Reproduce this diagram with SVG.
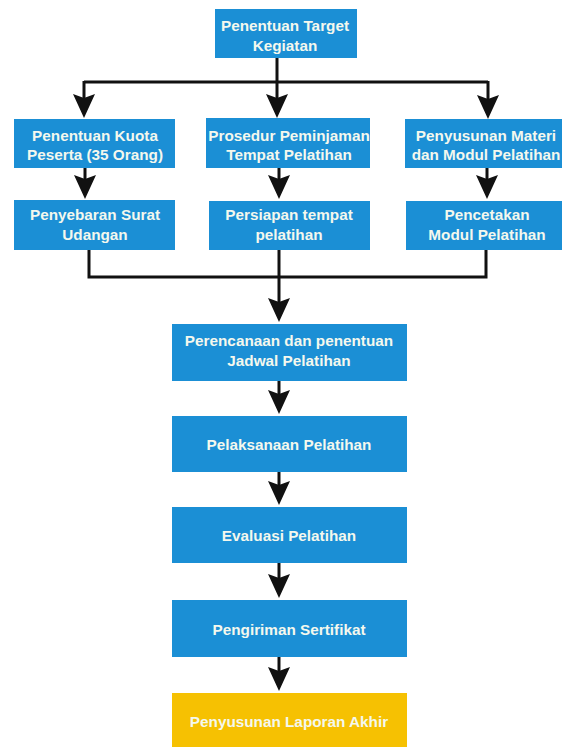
<svg xmlns="http://www.w3.org/2000/svg" width="562" height="747" viewBox="0 0 562 747">
<style>
.b{fill:#1b8fd5}
.y{fill:#f6c102}
text{font-family:"Liberation Sans",Arial,sans-serif;font-weight:bold;font-size:15.3px;fill:#f4f8ee;text-anchor:middle}
.c{fill:none;stroke:#111;stroke-width:3}
</style>
<defs>
<marker id="ah" viewBox="0 0 24 22" refX="14" refY="11" markerWidth="24" markerHeight="22" markerUnits="userSpaceOnUse" orient="auto">
<path d="M0,0 L24,11 L0,22 L4,11 Z" fill="#111"/>
</marker>
</defs>
<rect width="562" height="747" fill="#fff"/>
<g id="connectors">
<path class="c" d="M277,58 V82"/>
<path class="c" d="M84,82 H488"/>
<path class="c" d="M84,81 V108" marker-end="url(#ah)"/>
<path class="c" d="M277,82 V108" marker-end="url(#ah)"/>
<path class="c" d="M488,81 V109" marker-end="url(#ah)"/>
<path class="c" d="M85,168 V189" marker-end="url(#ah)"/>
<path class="c" d="M279,168 V189" marker-end="url(#ah)"/>
<path class="c" d="M487,168 V189" marker-end="url(#ah)"/>
<path class="c" d="M89,250 V277 H486 V250"/>
<path class="c" d="M279,250 V312" marker-end="url(#ah)"/>
<path class="c" d="M279,381 V404" marker-end="url(#ah)"/>
<path class="c" d="M279,472 V495" marker-end="url(#ah)"/>
<path class="c" d="M279,563 V588" marker-end="url(#ah)"/>
<path class="c" d="M279,657 V681" marker-end="url(#ah)"/>
</g>
<g id="n_target"><rect class="b" x="215" y="9" width="142" height="49"/><text x="285" y="31">Penentuan Target</text><text x="285" y="51">Kegiatan</text></g>
<g id="n_kuota"><rect class="b" x="14" y="119" width="161" height="49"/><text x="95" y="141">Penentuan Kuota</text><text x="95" y="160">Peserta (35 Orang)</text></g>
<g id="n_prosedur"><rect class="b" x="206" y="118" width="164" height="50"/><text x="289" y="141">Prosedur Peminjaman</text><text x="289" y="160">Tempat Pelatihan</text></g>
<g id="n_materi"><rect class="b" x="405" y="119" width="157" height="49"/><text x="486" y="141">Penyusunan Materi</text><text x="486" y="160">dan Modul Pelatihan</text></g>
<g id="n_surat"><rect class="b" x="14" y="200" width="161" height="50"/><text x="95" y="220">Penyebaran Surat</text><text x="95" y="240">Udangan</text></g>
<g id="n_tempat"><rect class="b" x="209" y="201" width="161" height="49"/><text x="289" y="220">Persiapan tempat</text><text x="289" y="240">pelatihan</text></g>
<g id="n_cetak"><rect class="b" x="406" y="201" width="156" height="49"/><text x="487" y="220">Pencetakan</text><text x="487" y="240">Modul Pelatihan</text></g>
<g id="n_jadwal"><rect class="b" x="172" y="324" width="235" height="57"/><text x="289" y="346">Perencanaan dan penentuan</text><text x="289" y="366">Jadwal Pelatihan</text></g>
<g id="n_pelaksanaan"><rect class="b" x="172" y="416" width="235" height="56"/><text x="289" y="450">Pelaksanaan Pelatihan</text></g>
<g id="n_evaluasi"><rect class="b" x="172" y="507" width="235" height="56"/><text x="289" y="541">Evaluasi Pelatihan</text></g>
<g id="n_sertifikat"><rect class="b" x="172" y="600" width="235" height="57"/><text x="289" y="635">Pengiriman Sertifikat</text></g>
<g id="n_laporan"><rect class="y" x="172" y="693" width="235" height="54"/><text x="289" y="727">Penyusunan Laporan Akhir</text></g>
</svg>
